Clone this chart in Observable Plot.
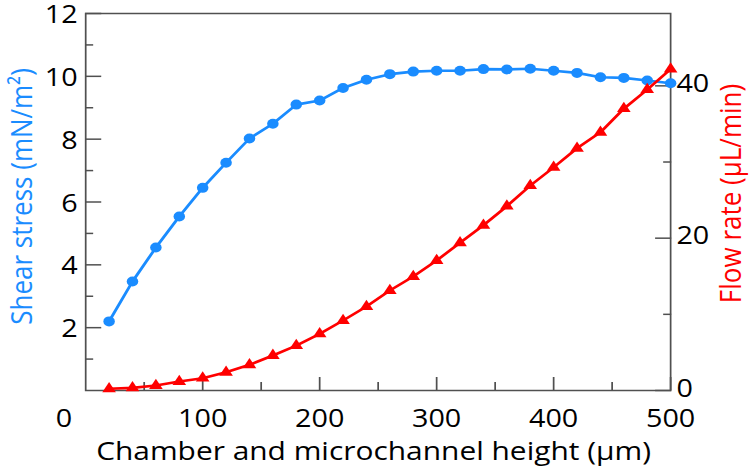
<!DOCTYPE html>
<html><head><meta charset="utf-8">
<script src="https://cdn.jsdelivr.net/npm/d3@7"></script>
<script src="https://cdn.jsdelivr.net/npm/@observablehq/plot@0.6"></script>
<style>
html,body{margin:0;padding:0;background:#fff;overflow:hidden}
#chart{width:750px;height:469px;}
#chart svg{transform:scaleX(1.1503);transform-origin:0 0;display:block;max-width:none}
</style></head><body><div id="chart"></div>
<script>
// Chamber and microchannel height (µm)
const heights = [20,40,60,80,100,120,140,160,180,200,220,240,260,280,300,320,340,360,380,400,420,440,460,480,500];
// Shear stress (mN/m²) – left axis
const shearStress = [2.2,3.47,4.55,5.54,6.45,7.25,8.02,8.49,9.1,9.23,9.63,9.89,10.07,10.15,10.18,10.18,10.23,10.22,10.24,10.18,10.11,9.97,9.95,9.87,9.78];
// Flow rate (µL/min) – right axis
const flowRate = [0.22,0.35,0.66,1.18,1.62,2.4,3.37,4.6,5.9,7.44,9.19,11.03,13.13,14.97,17.07,19.4,21.7,24.2,26.9,29.3,31.8,33.9,37.0,39.5,42.2];

const xTicks = [100,200,300,400,500];
const xZeroTick = [0];
const xMinorTicks = [50,150,250,350,450];
const shearTicks = [2,4,6,8,10,12];
const shearMinorTicks = [1,3,5,7,9,11];
const flowTicks = [0,20,40];
const flowMinorTicks = [10,30];
const shearMax = 12;
const flowMax = 49.5;

const xTitle = "Chamber and microchannel height (μm)";
const leftTitle = "Shear stress (mN/m²)";
const rightTitle = "Flow rate (μL/min)";

const toLeft = v => v * shearMax / flowMax;
const fromLeft = v => Math.round(v * flowMax / shearMax);

const blue = "#1a8cff", red = "#ff0000", axisColor = "#505050";
const shear = heights.map((h, i) => ({h, v: shearStress[i]}));
const flow = heights.map((h, i) => ({h, v: toLeft(flowRate[i])}));

const W = 652, H = 469;
const tickFont = 25;
const chart = Plot.plot({
  width: W, height: H,
  marginLeft: 74, marginRight: 69.5, marginTop: 13, marginBottom: 79,
  style: {fontFamily: "'Open Sans', sans-serif", fontSize: "25px", color: "#000", background: "#fff"},
  x: {domain: [0, 500], label: null},
  y: {domain: [0, shearMax], label: null},
  marks: [
    Plot.frame({stroke: axisColor, strokeWidth: 1.5}),
    // x axis
    Plot.axisX({ticks: xTicks, tickSize: -13, tickPadding: 32, stroke: axisColor, strokeWidth: 1.5, fill: "#000", fontSize: tickFont, label: null}),
    Plot.axisX({ticks: xZeroTick, tickSize: 0, tickPadding: 19, dx: -18.8, fill: "#000", fontSize: tickFont, label: null}),
    Plot.axisX({ticks: xMinorTicks, tickSize: -8, tickFormat: () => "", stroke: axisColor, strokeWidth: 1.5, label: null}),
    // left y axis
    Plot.axisY({ticks: shearTicks, anchor: "left", tickSize: -14, tickFormat: () => "", stroke: axisColor, strokeWidth: 1.5, label: null}),
    Plot.axisY({ticks: shearTicks, anchor: "left", tickSize: 0, tickPadding: 7, dy: 1.5, fill: "#000", fontSize: tickFont, label: null}),
    Plot.axisY({ticks: shearMinorTicks, anchor: "left", tickSize: -7, tickFormat: () => "", stroke: axisColor, strokeWidth: 1.5, label: null}),
    // right y axis (flow rate)
    Plot.axisY({ticks: flowTicks.map(toLeft), anchor: "right", tickSize: -14, tickFormat: () => "", stroke: axisColor, strokeWidth: 1.5, label: null}),
    Plot.axisY({ticks: flowTicks.map(toLeft), anchor: "right", tickSize: 0, tickPadding: 5, dy: -2, tickFormat: fromLeft, fill: "#000", fontSize: tickFont, label: null}),
    Plot.axisY({ticks: flowMinorTicks.map(toLeft), anchor: "right", tickSize: -7, tickFormat: () => "", stroke: axisColor, strokeWidth: 1.5, label: null}),
    // shear stress series
    Plot.line(shear, {x: "h", y: "v", stroke: blue, strokeWidth: 2.6}),
    Plot.dot(shear, {x: "h", y: "v", r: 5, fill: blue, stroke: "none", symbol: "circle"}),
    // flow rate series
    Plot.line(flow, {x: "h", y: "v", stroke: red, strokeWidth: 2.6}),
    Plot.dot(flow, {x: "h", y: "v", r: 4.4, fill: red, stroke: "none", symbol: "triangle"}),
    // titles
    Plot.text([xTitle], {text: d => d, frameAnchor: "bottom", textAnchor: "middle", dx: -4, dy: 61, lineAnchor: "middle", fontSize: 26, fill: "#000"}),
    Plot.text([leftTitle], {text: d => d, frameAnchor: "left", textAnchor: "middle", rotate: -90, dx: -55, dy: -5.5, lineAnchor: "middle", fontSize: 26, fill: blue}),
    Plot.text([rightTitle], {text: d => d, frameAnchor: "right", textAnchor: "middle", rotate: -90, dx: 53, dy: -8.5, lineAnchor: "middle", fontSize: 26, fill: red})
  ]
});
document.getElementById("chart").appendChild(chart);
</script>
</body></html>
